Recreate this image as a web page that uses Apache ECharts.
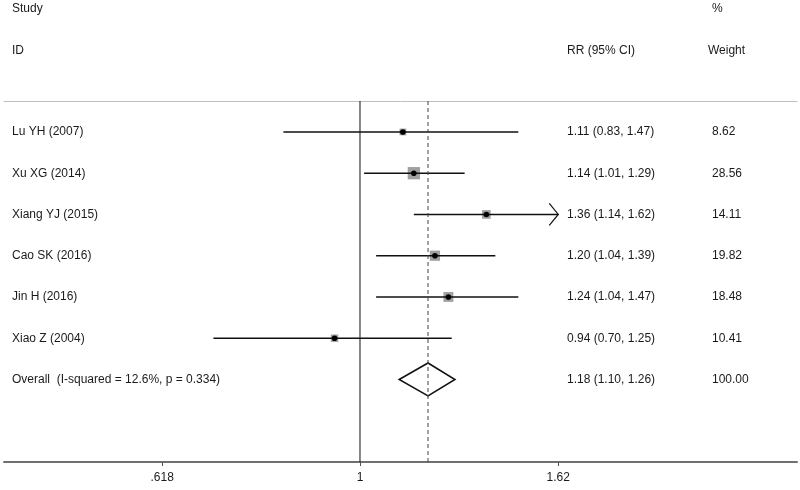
<!DOCTYPE html>
<html>
<head>
<meta charset="utf-8">
<script src="https://cdn.jsdelivr.net/npm/echarts@6/dist/echarts.min.js"></script>
<style>html,body{margin:0;padding:0;background:#fff}#c{width:800px;height:490px}</style>
</head>
<body>
<div id="c"></div>
<script>
// ---- data ----
var studies = ['Lu YH (2007)', 'Xu XG (2014)', 'Xiang YJ (2015)', 'Cao SK (2016)', 'Jin H (2016)', 'Xiao Z (2004)'];
var rr      = [1.11, 1.14, 1.36, 1.20, 1.24, 0.94];
var lower   = [0.83, 1.01, 1.14, 1.04, 1.04, 0.70];
var upper   = [1.47, 1.29, 1.62, 1.39, 1.47, 1.25];
var weights = [8.62, 28.56, 14.11, 19.82, 18.48, 10.41];
var overallLabel = 'Overall  (I-squared = 12.6%, p = 0.334)';
var overall = [1.18, 1.10, 1.26];
var overallWeight = 100.00;
var tickValues = [0.618, 1, 1.62];
var tickLabels = ['.618', '1', '1.62'];
var headers = [
  {text: 'Study', col: 'study', row: 'h1'},
  {text: 'ID', col: 'study', row: 'h2'},
  {text: 'RR (95% CI)', col: 'rr', row: 'h2'},
  {text: '%', col: 'w', row: 'h1'},
  {text: 'Weight', col: 'wHead', row: 'h2'}
];

// ---- layout ----
var FONT = 'Liberation Sans, Arial, sans-serif';
var colX = {study: 12, rr: 567, w: 712, wHead: 708};
var rowY = {h1: 9, h2: 51};
var clipMax = 1.62;

function fmt2(v) { return v.toFixed(2); }

var studyRows = studies.map(function (s, i) {
  return [i + 1, rr[i], lower[i], upper[i], weights[i]];
});
var textRows = studies.map(function (s, i) {
  return [i + 1, s, fmt2(rr[i]) + ' (' + fmt2(lower[i]) + ', ' + fmt2(upper[i]) + ')', fmt2(weights[i])];
});
textRows.push([studies.length + 1, overallLabel,
  fmt2(overall[0]) + ' (' + fmt2(overall[1]) + ', ' + fmt2(overall[2]) + ')', fmt2(overallWeight)]);

var chart = echarts.init(document.getElementById('c'), null, {renderer: 'canvas'});
var L = Math.log;
var yMin = 0.25, yMax = 9.0;

var option = {
  animation: false,
  backgroundColor: '#fff',
  grid: {left: 4, right: 3, top: 101, bottom: 28},
  xAxis: [{
    type: 'value', min: -0.8662, max: 1.0633,
    axisLine: {show: true, lineStyle: {color: '#707070', width: 2}},
    axisTick: {show: true, length: 4, lineStyle: {color: '#555', width: 1},
      customValues: tickValues.map(L)},
    axisLabel: {show: true, color: '#1a1a1a', fontSize: 12, fontFamily: FONT, margin: 10,
      customValues: tickValues.map(L),
      formatter: function (v) {
        var best = 0, d = 1e9;
        tickValues.forEach(function (t, k) { var dd = Math.abs(L(t) - v); if (dd < d) { d = dd; best = k; } });
        return tickLabels[best];
      }},
    splitLine: {show: false}
  }, {
    type: 'value', position: 'top', min: -0.8662, max: 1.0633,
    axisLine: {show: true, lineStyle: {color: '#c0c0c0', width: 1}},
    axisTick: {show: false}, axisLabel: {show: false}, splitLine: {show: false}
  }],
  yAxis: {type: 'value', inverse: true, min: yMin, max: yMax, show: false},
  graphic: headers.map(function (h) {
    return {type: 'text', x: colX[h.col], y: rowY[h.row],
      style: {text: h.text, fill: '#1a1a1a', font: '12px ' + FONT, verticalAlign: 'middle', align: 'left'}};
  }),
  series: [
    // reference line at 1
    {type: 'line', data: [[0, yMin], [0, yMax]], symbol: 'none', silent: true,
      lineStyle: {color: '#111', width: 1}},
    // overall dashed line
    {type: 'line', data: [[L(overall[0]), yMin], [L(overall[0]), yMax]], symbol: 'none', silent: true,
      lineStyle: {color: '#444', width: 1, type: [4, 3]}},
    // studies: CI lines, squares, dots
    {type: 'custom', clip: false, silent: true, data: studyRows,
      renderItem: function (params, api) {
        var row = api.value(0), est = api.value(1), lo = api.value(2), hi = api.value(3), w = api.value(4);
        var pc = api.coord([L(est), row]);
        var hiC = Math.min(hi, clipMax);
        var p1 = api.coord([L(lo), row]);
        var p2 = api.coord([L(hiC), row]);
        var side = 2.3 * Math.sqrt(w);
        var children = [
          {type: 'rect', shape: {x: pc[0] - side / 2, y: pc[1] - side / 2, width: side, height: side},
            style: {fill: '#a0a0a0'}},
          {type: 'line', shape: {x1: p1[0], y1: p1[1], x2: p2[0], y2: p2[1]},
            style: {stroke: '#111', lineWidth: 1.5}},
          {type: 'circle', shape: {cx: pc[0], cy: pc[1], r: 2.8}, style: {fill: '#000'}}
        ];
        if (hi >= clipMax) {
          children.push({type: 'polyline', shape: {points: [[p2[0] - 9, p2[1] - 11], [p2[0], p2[1]], [p2[0] - 9, p2[1] + 11]]},
            style: {stroke: '#111', lineWidth: 1.2, fill: null}});
        }
        return {type: 'group', children: children};
      }},
    // overall diamond
    {type: 'custom', clip: false, silent: true, data: [[studies.length + 1].concat(overall)],
      renderItem: function (params, api) {
        var row = api.value(0);
        var c = api.coord([L(api.value(1)), row]);
        var a = api.coord([L(api.value(2)), row]);
        var b = api.coord([L(api.value(3)), row]);
        var hh = 16.5;
        return {type: 'polygon', shape: {points: [[a[0], c[1]], [c[0], c[1] - hh], [b[0], c[1]], [c[0], c[1] + hh]]},
          style: {fill: 'none', stroke: '#111', lineWidth: 1.5}};
      }},
    // text columns
    {type: 'custom', clip: false, silent: true, data: textRows,
      renderItem: function (params, api) {
        var r = textRows[params.dataIndex];
        var y = api.coord([0, r[0]])[1];
        var mk = function (x, t) {
          return {type: 'text', style: {x: x, y: y, text: t, fill: '#1a1a1a', font: '12px ' + FONT,
            align: 'left', verticalAlign: 'middle'}};
        };
        return {type: 'group', children: [mk(colX.study, r[1]), mk(colX.rr, r[2]), mk(colX.w, r[3])]};
      }}
  ]
};
chart.setOption(option);
</script>
</body>
</html>
